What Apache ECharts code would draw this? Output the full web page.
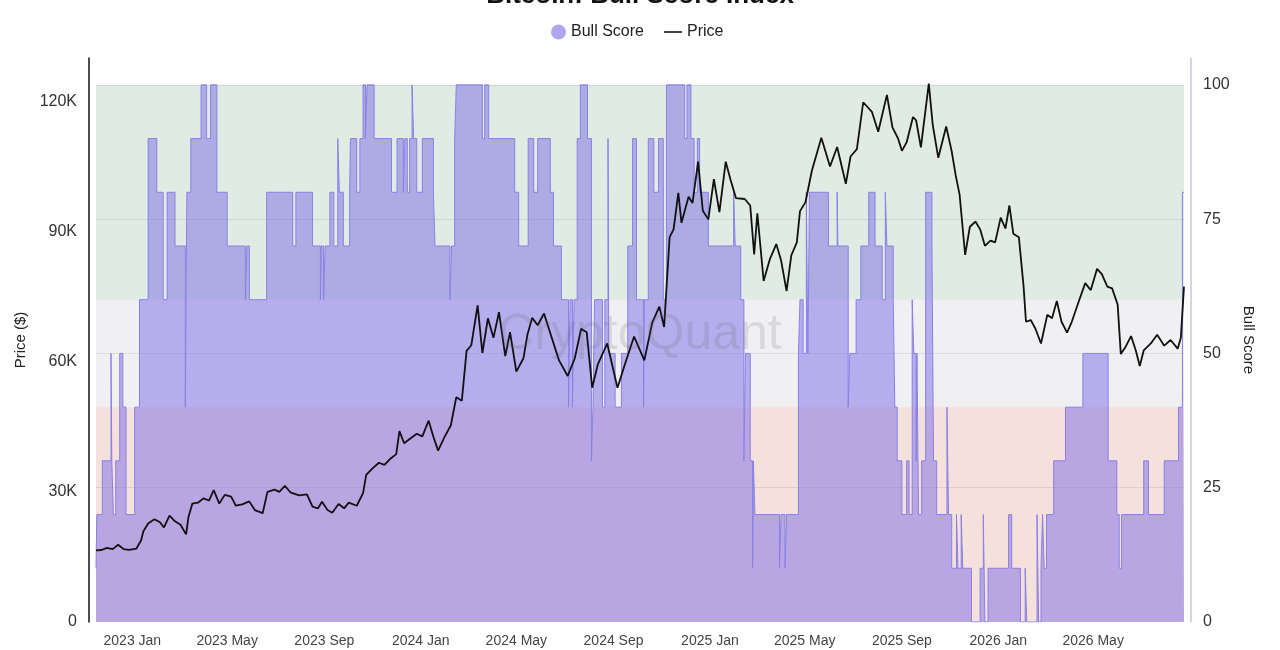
<!DOCTYPE html>
<html>
<head>
<meta charset="utf-8">
<script src="https://cdn.jsdelivr.net/npm/echarts@6/dist/echarts.min.js"></script>
<style>
html,body{margin:0;padding:0;background:#fff;}
#chart{width:1280px;height:650px;}
</style>
</head>
<body>
<div id="chart"></div>
<script>
// ---------- DATA ----------
const titleText = 'Bitcoin: Bull Score Index';
const startDate = '2022-11-16';
const endDate = '2026-08-24';
const tickDates = ['2023-01-01','2023-05-01','2023-09-01','2024-01-01','2024-05-01','2024-09-01',
  '2025-01-01','2025-05-01','2025-09-01','2026-01-01','2026-05-01'];
const monthNames = ['Jan','Feb','Mar','Apr','May','Jun','Jul','Aug','Sep','Oct','Nov','Dec'];

// Price (thousand USD)
const priceDates = [
'2022-11-16','2022-11-23','2022-11-30','2022-12-07','2022-12-14','2022-12-21','2022-12-28',
'2023-01-06','2023-01-12','2023-01-15','2023-01-21','2023-01-29','2023-02-05','2023-02-10','2023-02-17','2023-02-24',
'2023-03-03','2023-03-10','2023-03-13','2023-03-18','2023-03-25','2023-04-01','2023-04-08','2023-04-14','2023-04-21','2023-04-28',
'2023-05-06','2023-05-12','2023-05-20','2023-05-29','2023-06-05','2023-06-15','2023-06-21','2023-06-30','2023-07-06','2023-07-13',
'2023-07-20','2023-07-31','2023-08-10','2023-08-17','2023-08-24','2023-08-29','2023-09-05','2023-09-11','2023-09-19','2023-09-26',
'2023-10-02','2023-10-12','2023-10-20','2023-10-24','2023-11-01','2023-11-09','2023-11-16','2023-11-24','2023-12-01','2023-12-05',
'2023-12-11','2023-12-18','2023-12-27','2024-01-03','2024-01-11','2024-01-17','2024-01-23','2024-01-31','2024-02-08','2024-02-15',
'2024-02-22','2024-02-28','2024-03-05','2024-03-13','2024-03-19','2024-03-26','2024-04-02','2024-04-09','2024-04-17','2024-04-23',
'2024-05-01','2024-05-10','2024-05-15','2024-05-21','2024-05-28','2024-06-05','2024-06-14','2024-06-24','2024-07-05','2024-07-14',
'2024-07-22','2024-07-29','2024-08-05','2024-08-12','2024-08-24','2024-09-06','2024-09-15','2024-09-27','2024-10-10','2024-10-20',
'2024-10-29','2024-11-04','2024-11-11','2024-11-16','2024-11-22','2024-11-26','2024-12-05','2024-12-10','2024-12-17','2024-12-23',
'2024-12-30','2025-01-06','2025-01-13','2025-01-21','2025-01-27','2025-02-03','2025-02-14','2025-02-21','2025-02-26','2025-03-02',
'2025-03-10','2025-03-18','2025-03-26','2025-04-01','2025-04-08','2025-04-14','2025-04-21','2025-04-25','2025-05-02','2025-05-10',
'2025-05-22','2025-06-02','2025-06-11','2025-06-22','2025-06-28','2025-07-06','2025-07-14','2025-07-25','2025-08-02','2025-08-13',
'2025-08-20','2025-08-27','2025-09-01','2025-09-07','2025-09-15','2025-09-19','2025-09-25','2025-10-05','2025-10-10','2025-10-17',
'2025-10-27','2025-11-03','2025-11-08','2025-11-13','2025-11-20','2025-11-26','2025-12-03','2025-12-09','2025-12-15','2025-12-22',
'2025-12-28','2026-01-04','2026-01-10','2026-01-15','2026-01-20','2026-01-27','2026-02-02','2026-02-05','2026-02-11','2026-02-17',
'2026-02-24','2026-03-04','2026-03-10','2026-03-16','2026-03-22','2026-03-29','2026-04-04','2026-04-13','2026-04-21','2026-04-28',
'2026-05-06','2026-05-12','2026-05-19','2026-05-25','2026-06-01','2026-06-05','2026-06-11','2026-06-18','2026-06-24','2026-06-29',
'2026-07-04','2026-07-13','2026-07-21','2026-07-30','2026-08-07','2026-08-16','2026-08-20','2026-08-24'];
const priceValues = [
16.5,16.6,17.1,16.8,17.8,16.8,16.6,
16.9,18.8,20.9,22.7,23.7,23.0,21.8,24.5,23.2,
22.4,20.2,24.2,27.3,27.5,28.5,28.0,30.4,27.3,29.3,
28.9,26.8,27.1,27.8,25.8,25.1,30.0,30.5,30.0,31.4,
29.9,29.2,29.4,26.6,26.2,27.7,25.8,25.2,27.2,26.2,
27.5,26.8,29.7,33.9,35.4,36.7,36.2,37.7,38.7,44.0,
41.2,42.2,43.4,42.8,46.4,42.7,39.5,42.6,45.3,51.8,
51.0,62.5,63.8,73.0,62.0,70.0,65.5,71.4,61.3,66.8,
57.7,60.8,66.2,70.1,68.4,71.1,66.0,60.3,56.7,60.8,
67.6,66.8,54.0,59.3,64.2,54.0,59.2,65.8,60.3,69.0,
72.7,68.0,88.7,90.5,98.9,92.0,98.0,96.6,106.1,94.8,
92.8,102.1,94.5,106.1,102.0,97.7,97.5,96.0,84.7,94.2,
78.6,83.7,87.1,83.4,76.3,84.5,87.5,94.7,96.8,104.0,
111.6,105.0,109.5,101.0,107.3,109.0,119.8,117.6,113.0,121.5,
114.0,111.5,108.6,110.6,116.4,115.6,109.4,124.1,114.6,107.0,
114.2,108.5,103.0,98.5,84.6,91.1,92.3,90.5,86.7,87.9,
87.5,93.2,90.7,96.0,89.5,88.7,77.3,69.2,69.6,67.6,
64.2,70.8,70.0,74.0,69.2,66.7,69.2,74.0,78.1,76.5,
81.4,80.2,77.3,76.9,73.2,61.8,63.4,65.9,62.6,59.0,
62.6,64.2,66.2,63.7,65.0,63.0,65.5,77.3];

// Bull Score: date where each level starts (step)
const bullDates = [
'2022-11-16','2022-11-17','2022-11-24','2022-12-05','2022-12-06','2022-12-08','2022-12-11','2022-12-16','2022-12-20','2022-12-24',
'2023-01-04','2023-01-10','2023-01-21','2023-02-01','2023-02-09','2023-02-14','2023-02-24','2023-03-09','2023-03-11','2023-03-16',
'2023-03-29','2023-04-05','2023-04-10','2023-04-18','2023-05-01','2023-05-24','2023-05-26','2023-05-29','2023-06-20','2023-07-23',
'2023-07-27','2023-08-17','2023-08-27','2023-08-28','2023-08-31','2023-09-02','2023-09-08','2023-09-13','2023-09-18','2023-09-20',
'2023-09-25','2023-10-03','2023-10-04','2023-10-12','2023-10-16','2023-10-20','2023-10-23','2023-10-25','2023-11-03','2023-11-25',
'2023-12-02','2023-12-10','2023-12-12','2023-12-15','2023-12-18','2023-12-21','2023-12-23','2023-12-27','2024-01-03','2024-01-17',
'2024-01-19','2024-02-07','2024-02-09','2024-02-13','2024-02-15','2024-03-19','2024-03-22','2024-03-27','2024-04-29','2024-05-04',
'2024-05-16','2024-05-23','2024-05-28','2024-06-13','2024-06-17','2024-06-27','2024-07-06','2024-07-08','2024-07-11','2024-07-13',
'2024-07-17','2024-07-21','2024-07-30','2024-08-04','2024-08-06','2024-08-08','2024-08-18','2024-08-21','2024-08-25','2024-08-26',
'2024-09-03','2024-09-11','2024-09-19','2024-09-25','2024-09-30','2024-10-09','2024-10-10','2024-10-15','2024-10-22','2024-10-28',
'2024-11-03','2024-11-07','2024-11-30','2024-12-03','2024-12-08','2024-12-12','2024-12-16','2024-12-19','2024-12-30','2025-01-31',
'2025-02-02','2025-02-09','2025-02-13','2025-02-15','2025-02-21','2025-02-24','2025-02-25','2025-02-27','2025-03-30','2025-04-01',
'2025-04-06','2025-04-08','2025-04-23','2025-04-25','2025-04-29','2025-05-03','2025-05-05','2025-05-07','2025-05-31','2025-06-11',
'2025-06-12','2025-06-25','2025-06-27','2025-07-05','2025-07-11','2025-07-21','2025-07-29','2025-08-07','2025-08-11','2025-08-13',
'2025-08-21','2025-08-23','2025-08-26','2025-09-01','2025-09-07','2025-09-10','2025-09-14','2025-09-16','2025-09-19','2025-09-20',
'2025-09-22','2025-09-26','2025-10-01','2025-10-09','2025-10-11','2025-10-15','2025-10-28','2025-10-30','2025-11-03','2025-11-09',
'2025-11-11','2025-11-15','2025-11-17','2025-11-28','2025-12-09','2025-12-13','2025-12-15','2025-12-19','2026-01-14','2026-01-18',
'2026-01-29','2026-02-04','2026-02-06','2026-02-19','2026-02-21','2026-02-24','2026-02-26','2026-02-28','2026-03-03','2026-03-12',
'2026-03-27','2026-04-18','2026-05-20','2026-05-31','2026-06-03','2026-06-06','2026-07-04','2026-07-10','2026-07-30','2026-08-17',
'2026-08-22','2026-08-24'];
const bullValues = [
10,20,30,50,30,20,30,50,40,20,
40,60,90,80,60,80,70,40,80,90,
100,90,100,80,70,60,70,60,80,70,
80,70,60,70,60,70,80,70,90,80,
70,80,90,80,90,100,90,100,90,80,
90,80,90,80,90,100,90,80,90,80,
70,60,70,90,100,90,100,90,80,70,
90,80,90,80,70,60,40,60,40,60,
90,100,90,30,40,60,40,60,90,50,
40,50,70,90,60,40,60,90,80,90,
60,100,90,100,90,80,90,80,70,80,
70,60,30,50,30,10,30,20,10,20,
10,20,50,60,50,80,50,80,70,80,
70,40,50,60,70,80,70,60,80,70,
60,40,30,20,30,20,60,50,30,50,
20,30,80,70,30,20,40,20,10,20,
10,20,10,0,10,20,0,10,20,10,
0,10,0,20,0,10,20,10,20,30,
40,50,30,20,10,20,30,20,30,40,
80,80];

// ---------- CHART ----------
const FONT = '"Liberation Sans", Arial, Helvetica, sans-serif';
const toTs = s => echarts.number.parseDate(s).getTime();
const priceData = priceDates.map((d, i) => [toTs(d), priceValues[i]]);
const bullData = bullDates.map((d, i) => [toTs(d), bullValues[i]]);

const chart = echarts.init(document.getElementById('chart'), null, {renderer: 'canvas'});
chart.setOption({
  animation: false,
  backgroundColor: '#ffffff',
  textStyle: {fontFamily: FONT},
  title: {
    text: titleText, left: 'center', top: -22,
    textStyle: {fontSize: 26, fontWeight: 'bold', color: '#111', fontFamily: FONT}
  },
  legend: [
    {
      data: [{name: 'Bull Score', icon: 'circle'}],
      left: 546, top: 19, itemWidth: 15, itemHeight: 15, itemGap: 20,
      textStyle: {fontSize: 16, color: '#222', fontFamily: FONT}
    },
    {
      data: [{name: 'Price', icon: 'rect'}],
      left: 659, top: 19, itemWidth: 18, itemHeight: 1.6,
      textStyle: {fontSize: 16, color: '#222', fontFamily: FONT}
    }
  ],
  grid: {left: 96, right: 96, top: 58, bottom: 28, containLabel: false},
  xAxis: {
    type: 'value',
    min: toTs(startDate), max: toTs(endDate),
    axisLine: {show: false},
    axisTick: {show: false},
    splitLine: {show: false},
    axisLabel: {
      customValues: tickDates.map(toTs),
      fontSize: 14, color: '#444', margin: 12, hideOverlap: false,
      formatter: function (v) {
        const d = new Date(v);
        return d.getFullYear() + ' ' + monthNames[d.getMonth()];
      }
    }
  },
  yAxis: [
    {
      type: 'value', position: 'left', offset: 7,
      min: 0, max: 130, interval: 30,
      name: 'Price ($)', nameLocation: 'middle', nameGap: 52,
      nameTextStyle: {fontSize: 15, color: '#222', fontFamily: FONT},
      axisLine: {show: true, lineStyle: {color: '#111', width: 1.5}},
      axisTick: {show: false},
      splitLine: {show: false},
      axisLabel: {
        fontSize: 16, color: '#333', margin: 12, showMaxLabel: false,
        formatter: v => v === 0 ? '0' : v + 'K'
      }
    },
    {
      type: 'value', position: 'right', offset: 7,
      min: 0, max: 105, interval: 25,
      name: 'Bull Score', nameLocation: 'middle', nameGap: 44, nameRotate: -90,
      nameTextStyle: {fontSize: 15, color: '#222', fontFamily: FONT},
      axisLine: {show: true, lineStyle: {color: '#c9c8d6', width: 1.5}},
      axisTick: {show: false},
      splitLine: {show: true, showMaxLine: false, showMinLine: false, lineStyle: {color: '#d8d8d8', width: 1}},
      axisLabel: {fontSize: 16, color: '#333', margin: 12, showMaxLabel: false}
    }
  ],
  graphic: [{
    type: 'text', left: 'center', top: 310, z: 50, silent: true,
    style: {text: 'CryptoQuant', font: '500 50px ' + FONT, fill: 'rgba(100,100,100,0.17)'}
  }],
  series: [
    {
      name: 'zones', type: 'line', yAxisIndex: 1, data: [], silent: true, z: 0,
      markArea: {
        silent: true,
        data: [
          [{yAxis: 60, itemStyle: {color: 'rgba(193,215,199,0.5)'}}, {yAxis: 100}],
          [{yAxis: 40, itemStyle: {color: 'rgba(226,223,230,0.5)'}}, {yAxis: 60}],
          [{yAxis: 0, itemStyle: {color: 'rgba(236,196,186,0.5)'}}, {yAxis: 40}]
        ]
      }
    },
    {
      name: 'Bull Score', type: 'line', yAxisIndex: 1, step: 'end',
      data: bullData, showSymbol: false, symbol: 'none', z: 2,
      itemStyle: {color: '#afa6f0'},
      lineStyle: {color: '#8a80e6', width: 1},
      areaStyle: {color: 'rgba(122,108,230,0.5)', opacity: 1, origin: 'start'}
    },
    {
      name: 'Price', type: 'line', yAxisIndex: 0,
      data: priceData, showSymbol: false, symbol: 'none', z: 3,
      itemStyle: {color: '#111'},
      lineStyle: {color: '#111', width: 1.8}
    }
  ]
});
</script>
</body>
</html>
